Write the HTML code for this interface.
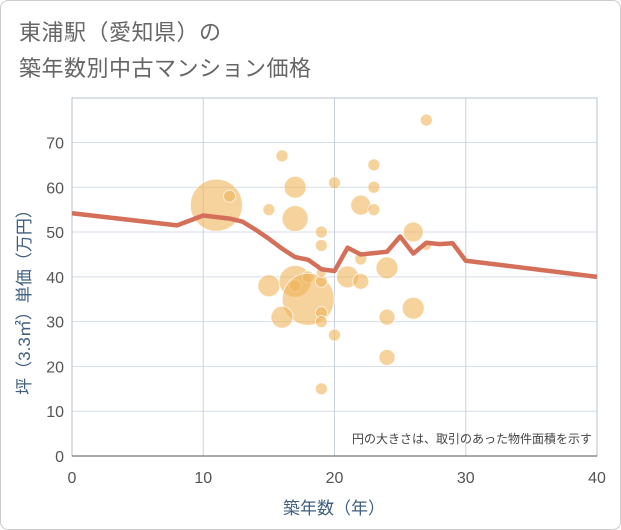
<!DOCTYPE html>
<html><head><meta charset="utf-8"><style>
body{margin:0;background:#fff;}
#wrap{position:relative;width:619px;height:528px;border:1px solid #ccc;border-radius:8px;overflow:hidden;background:#fff;font-family:"Liberation Sans","Noto Sans CJK JP",sans-serif;}
.title{position:absolute;left:18px;font-size:22px;color:#666;white-space:nowrap;letter-spacing:0.5px}
</style></head><body>
<div id="wrap">
<div class="title" style="top:14px">東浦駅（愛知県）の</div>
<div class="title" style="top:50px">築年数別中古マンション価格</div>
<svg id="chart" width="621" height="530" style="position:absolute;left:-1px;top:-1px"></svg>
</div>
<script>
const xTicks=[0,10,20,30,40];
const yTicks=[0,10,20,30,40,50,60,70];
const bubbleAge=[27,16,23,17,20,23,11,12,15,17,22,23,19,19,26,27,22,21,22,24,15,17,17,18,18,19,19,16,19,19,20,24,26,24,19];
const bubblePrice=[75,67,65,60,61,60,56,58,55,53,56,55,50,47,50,47,44,40,39,42,38,39,38,40,35,39,41,31,32,30,27,31,33,22,15];
const bubbleRadius=[6,6,6,11,6,6,26,6,6,13,10,6,6,6,10,5,6,11,8,11,11,16,6,6,26,6,5,11,6,6,6,8,11,8,6];
const lineAge=[0,8,10,12,13,14,15,16,17,18,19,20,21,22,23,24,25,26,27,28,29,30,40];
const linePrice=[54.2,51.5,53.7,53,52.3,50.5,48.5,46.3,44.4,43.8,41.7,41.3,46.5,45,45.3,45.6,49,45.2,47.6,47.3,47.5,43.6,40];
const svg=document.getElementById('chart');const NS='http://www.w3.org/2000/svg';
const X0=72,X1=597,Y0=456,Y1=98;
const xs=v=>X0+(v-0)/40*(X1-X0);
const ys=v=>Y0-v*4.479;
function mk(t,a,p){const e=document.createElementNS(NS,t);for(const k in a)e.setAttribute(k,a[k]);(p||svg).appendChild(e);return e;}
const grid=mk('g',{});


yTicks.forEach(v=>{if(v>0)mk('line',{x1:X0,x2:X1,y1:ys(v),y2:ys(v),stroke:'#d5dde8','stroke-width':1},grid);
const t=mk('text',{x:64,y:ys(v)+6,'text-anchor':'end','font-size':16,fill:'#555'});t.textContent=v;

});
xTicks.forEach(v=>{if(v>0&&v<40)mk('line',{x1:xs(v),x2:xs(v),y1:Y1,y2:Y0,stroke:'#c8d2de','stroke-width':1},grid);
const t=mk('text',{x:xs(v),y:483,'text-anchor':'middle','font-size':16,fill:'#555'});t.textContent=v;

});
const frame=mk('rect',{x:X0,y:Y1,width:X1-X0,height:Y0-Y1,fill:'none',stroke:'#b8c2cf','stroke-width':1});


const ax=mk('line',{x1:X0,x2:X1,y1:Y0,y2:Y0,stroke:'#555','stroke-width':1});


const bg=mk('g',{});


bubbleAge.forEach((a,i)=>{const c=mk('circle',{cx:xs(a),cy:ys(bubblePrice[i]),r:bubbleRadius[i],fill:'rgba(240,180,90,0.6)',stroke:'rgba(255,255,255,0.7)','stroke-width':1},bg);

});
const pl=mk('polyline',{points:lineAge.map((a,i)=>xs(a)+','+ys(linePrice[i])).join(' '),fill:'none',stroke:'#d4705a','stroke-width':4.5,'stroke-linejoin':'round'});


const note=mk('text',{x:592,y:443,'text-anchor':'end','font-size':12,fill:'#444'});note.textContent='円の大きさは、取引のあった物件面積を示す';


const xt=mk('text',{x:334,y:514,'text-anchor':'middle','font-size':17,fill:'#3f5f7f'});xt.textContent='築年数（年）';


const yt=mk('text',{x:0,y:0,'text-anchor':'middle','font-size':17,fill:'#3f5f7f',transform:'translate(30,298) rotate(-90)'});yt.textContent='坪（3.3㎡）単価（万円）';


</script>
</body></html>
